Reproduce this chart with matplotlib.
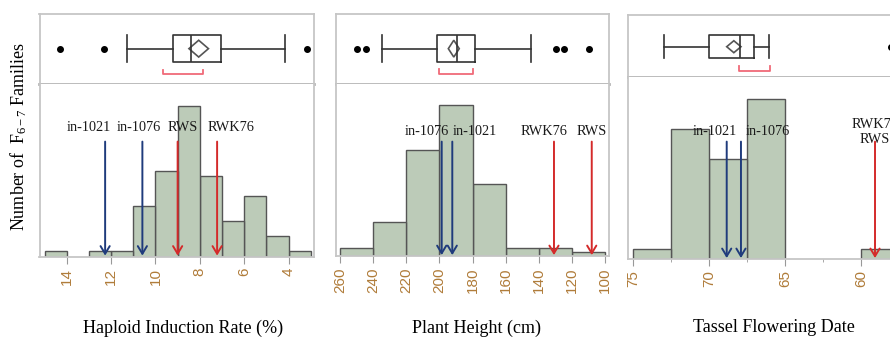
import matplotlib.pyplot as plt
from matplotlib.patches import Polygon
import numpy as np

plt.rcParams['font.family'] = ['Liberation Serif', 'DejaVu Serif']
plt.rcParams['mathtext.fontset'] = 'custom'
plt.rcParams['mathtext.rm'] = 'Liberation Serif'
plt.rcParams['mathtext.it'] = 'Liberation Serif:italic'

# Haploid induction rate (%), bins of 1
hir_bin_lo = [3, 4, 5, 6, 7, 8, 9, 10, 11, 12, 13, 14]
hir_counts = [1, 4, 12, 7, 16, 30, 17, 10, 1, 1, 0, 1]
hir_box = [4.15, 7.04, 8.39, 9.19, 11.27]      # whislo, q1, med, q3, whishi
hir_fliers = [14.3, 12.3, 3.15]
hir_mean = [8.05, 0.44]                          # mean, half width of diamond
hir_short = [7.87, 9.64]
hir_lines = ['in-1021', 'in-1076', 'RWS', 'RWK76']
hir_vals = [12.27, 10.59, 9.0, 7.22]

# Plant height (cm), bins of 20
ph_bin_lo = [100, 120, 140, 160, 180, 200, 220, 240]
ph_counts = [1, 2, 2, 19, 40, 28, 9, 2]
ph_box = [144.8, 178.3, 189.6, 201.2, 234.8]
ph_fliers = [249.5, 244.5, 129.7, 124.5, 109.8]
ph_mean = [191.3, 3.3]
ph_short = [179.5, 200.0]
ph_lines = ['in-1076', 'in-1021', 'RWK76', 'RWS']
ph_vals = [198.6, 192.2, 130.8, 108.0]

# Tassel flowering date, bins of 2.5
tfd_bin_lo = [57.5, 60, 62.5, 65, 67.5, 70, 72.5]
tfd_counts = [1, 0, 0, 16, 10, 13, 1]
tfd_box = [66.03, 67.03, 67.96, 70.0, 73.0]
tfd_fliers = [58.0]
tfd_mean = [68.37, 0.47]
tfd_short = [66.0, 68.0]
tfd_lines = ['in-1021', 'in-1076', 'RWK76\nRWS']
tfd_vals = [68.84, 67.9, 59.06]

W, H = 890, 338
fig = plt.figure(figsize=(W / 100, H / 100), dpi=100)

def fx(px):
    return px / W

def fy(px):
    return 1 - px / H

navy = '#1f3b7c'
red = '#d42a2a'
tick_col = '#b07c3a'
frame_col = '#c6c6c6'

panels = [
    dict(left=39.5, right=314, top=14, sep=84, bot=256.5, xlim=(15.23, 2.85), ymax=34.4,
         bins=hir_bin_lo, counts=hir_counts, bw=1, box=hir_box, fliers=hir_fliers,
         mean=hir_mean, short=hir_short, lines=hir_lines, vals=hir_vals,
         cols=[navy, navy, red, red], dx=[-16, -4, 5, 14], ty=0.747, ay=0.666,
         major=[14, 12, 10, 8, 6, 4], minor=[], boxy=0.505, boxh=0.39, dh=0.12,
         bry=[0.139, 0.2]),
    dict(left=335.7, right=609.3, top=14, sep=84, bot=256, xlim=(262.6, 97.4), ymax=45.6,
         bins=ph_bin_lo, counts=ph_counts, bw=20, box=ph_box, fliers=ph_fliers,
         mean=ph_mean, short=ph_short, lines=ph_lines, vals=ph_vals,
         cols=[navy, navy, red, red], dx=[-15, 23, -10, 0], ty=0.723, ay=0.665,
         major=list(range(260, 99, -20)), minor=[], boxy=0.505, boxh=0.39, dh=0.12,
         bry=[0.143, 0.21]),
    dict(left=628.3, right=902, top=15, sep=77.3, bot=259, xlim=(75.33, 57.28), ymax=18.2,
         bins=tfd_bin_lo, counts=tfd_counts, bw=2.5, box=tfd_box, fliers=tfd_fliers,
         mean=tfd_mean, short=tfd_short, lines=tfd_lines, vals=tfd_vals,
         cols=[navy, navy, red], dx=[-12, 27, 0], ty=0.70, ay=0.646,
         major=[75, 70, 65, 60], minor=[72.5, 67.5, 62.5], boxy=0.491, boxh=0.374, dh=0.096,
         bry=[0.106, 0.186]),
]

for p in panels:
    w = fx(p['right'] - p['left'])
    bax = fig.add_axes([fx(p['left']), fy(p['sep']), w, fy(p['top']) - fy(p['sep'])])
    hax = fig.add_axes([fx(p['left']), fy(p['bot']), w, fy(p['sep']) - fy(p['bot'])])

    for ax in (bax, hax):
        ax.set_xlim(*p['xlim'])
        for s in ax.spines.values():
            s.set_color(frame_col)
            s.set_linewidth(1.3)
        ax.set_yticks([])
    bax.spines['bottom'].set_color('#b5b5b5')
    bax.spines['bottom'].set_linewidth(2)
    hax.spines['top'].set_visible(False)
    bax.set_xticks([])
    bax.set_ylim(0, 1)

    # box plot
    q = p['box']
    stats = [dict(whislo=q[0], q1=q[1], med=q[2], q3=q[3], whishi=q[4], fliers=p['fliers'])]
    lp = dict(color='#333333', linewidth=1.2)
    bax.bxp(stats, positions=[p['boxy']], widths=p['boxh'], capwidths=p['boxh'],
            orientation='horizontal', manage_ticks=False,
            boxprops=lp, whiskerprops=lp, capprops=lp, medianprops=lp,
            flierprops=dict(marker='o', markerfacecolor='black', markeredgecolor='black',
                            markersize=4))
    m, c = p['mean']
    yc = p['boxy']
    bax.add_patch(Polygon([(m - c, yc), (m, yc + p['dh']), (m + c, yc), (m, yc - p['dh'])],
                          closed=True, fill=False, edgecolor='#555555', linewidth=1.2))
    lo, hi = p['short']
    y0, y1 = p['bry']
    bax.plot([lo, lo, hi, hi], [y1, y0, y0, y1], color='#f06a78', linewidth=1.3,
             clip_on=False)

    # histogram
    cnt = np.array(p['counts'])
    lo_edges = np.array(p['bins'])
    keep = cnt > 0
    hax.bar(lo_edges[keep], cnt[keep], width=p['bw'], align='edge',
            color='#bccbb8', edgecolor='#555555', linewidth=1.0, zorder=2)
    hax.set_ylim(0, p['ymax'])
    hax.set_xticks(p['major'])
    hax.set_xticks(p['minor'], minor=True)
    hax.set_xticklabels([f'{t:g}' for t in p['major']], rotation=90,
                        fontfamily='Liberation Sans', fontsize=11, color=tick_col)
    hax.tick_params(axis='x', which='major', length=5, color='#999999', pad=3)
    hax.tick_params(axis='x', which='minor', length=2.5, color='#999999')

    # parent/inducer arrows
    for name, v, col, dx in zip(p['lines'], p['vals'], p['cols'], p['dx']):
        hax.annotate('', xy=(v, 0.005), xytext=(v, p['ay']),
                     xycoords=('data', 'axes fraction'), textcoords=('data', 'axes fraction'),
                     arrowprops=dict(arrowstyle='->,head_length=0.55,head_width=0.33',
                                     color=col, lw=1.4, shrinkA=0, shrinkB=0),
                     zorder=4)
        hax.annotate(name, xy=(v, p['ty']), xycoords=('data', 'axes fraction'),
                     xytext=(dx, 0), textcoords='offset pixels', ha='center', va='center',
                     fontsize=10.3, color='#1a1a1a', linespacing=1.2, zorder=5)

fig.text(fx(19), fy(136), 'Number of  F$_{\\mathregular{6-7}}$ Families', rotation=90,
         ha='center', va='center', fontsize=13)
fig.text(fx(183), fy(328), 'Haploid Induction Rate (%)', ha='center', va='center', fontsize=13)
fig.text(fx(477), fy(328), 'Plant Height (cm)', ha='center', va='center', fontsize=13)
fig.text(fx(774), fy(328), 'Tassel Flowering Date', ha='center', va='center', fontsize=13)

fig.savefig('out.png', dpi=100)
